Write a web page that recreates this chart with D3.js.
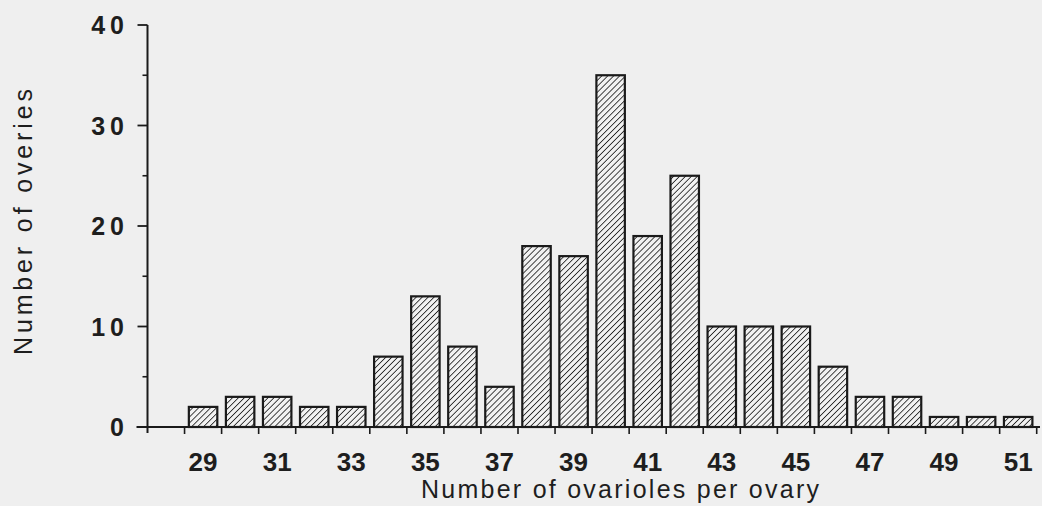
<!DOCTYPE html>
<html>
<head>
<meta charset="utf-8">
<script src="https://cdn.jsdelivr.net/npm/d3@7"></script>
<style>
  html, body { margin: 0; padding: 0; background: #efefef; }
  svg { display: block; }
  text { font-family: "Liberation Sans", Arial, Helvetica, sans-serif; fill: #1e1e1e; }
</style>
</head>
<body>
<div id="renderer"></div>
<script>
// ovarioles per ovary (bins) and number of ovaries in each
const bins = [29, 30, 31, 32, 33, 34, 35, 36, 37, 38, 39, 40, 41, 42, 43, 44, 45, 46, 47, 48, 49, 50, 51];
const counts = [2, 3, 3, 2, 2, 7, 13, 8, 4, 18, 17, 35, 19, 25, 10, 10, 10, 6, 3, 3, 1, 1, 1];
const xLabels = [29, 31, 33, 35, 37, 39, 41, 43, 45, 47, 49, 51];
const yLabels = [0, 10, 20, 30, 40];
const yMinor = [5, 15, 25, 35];

const width = 1042;
const height = 506;

const svg = d3.select("#renderer")
    .append("svg")
    .attr("width", width)
    .attr("height", height);

// hatch pattern for bars
const defs = svg.append("defs");
const pat = defs.append("pattern")
    .attr("id", "hatch")
    .attr("patternUnits", "userSpaceOnUse")
    .attr("width", 4.2)
    .attr("height", 4.2)
    .attr("patternTransform", "rotate(45)");
pat.append("rect").attr("width", 4.2).attr("height", 4.2).attr("fill", "#f2f2f2");
pat.append("line")
    .attr("x1", 0).attr("y1", 0).attr("x2", 0).attr("y2", 4.2)
    .attr("stroke", "#262626")
    .attr("stroke-width", 1.7);

// bin edges: 28 sits on the y axis, one empty bin before 29
const x = d3.scaleLinear()
    .domain([28, 52])
    .range([147.5, 1036.7]);

const y = d3.scaleLinear()
    .domain([0, 40])
    .range([427, 25]);

const inset = 4.3;

// bars
svg.selectAll("rect.bar")
    .data(bins)
    .join("rect")
    .attr("class", "bar")
    .attr("x", (d) => x(d) + inset)
    .attr("width", (d) => x(d + 1) - x(d) - 2 * inset)
    .attr("y", (d, i) => y(counts[i]))
    .attr("height", (d, i) => y(0) - y(counts[i]))
    .attr("fill", "url(#hatch)")
    .attr("stroke", "#1a1a1a")
    .attr("stroke-width", 2.2);

const axisColor = "#1a1a1a";

// y axis line
svg.append("line")
    .attr("x1", x(28)).attr("x2", x(28))
    .attr("y1", y(40)).attr("y2", y(0) + 6)
    .attr("stroke", axisColor)
    .attr("stroke-width", 2);

// y ticks (major + minor)
svg.selectAll("line.ymaj")
    .data(yLabels)
    .join("line")
    .attr("class", "ymaj")
    .attr("x1", x(28) - 10).attr("x2", x(28))
    .attr("y1", (d) => y(d)).attr("y2", (d) => y(d))
    .attr("stroke", axisColor)
    .attr("stroke-width", 1.8);

svg.selectAll("line.ymin")
    .data(yMinor)
    .join("line")
    .attr("class", "ymin")
    .attr("x1", x(28) - 5).attr("x2", x(28))
    .attr("y1", (d) => y(d)).attr("y2", (d) => y(d))
    .attr("stroke", axisColor)
    .attr("stroke-width", 1.6);

svg.selectAll("text.ylab")
    .data(yLabels)
    .join("text")
    .attr("class", "ylab")
    .attr("x", 129)
    .attr("y", (d) => y(d) + 9)
    .attr("text-anchor", "end")
    .attr("font-size", "25px")
    .attr("font-weight", "bold")
    .attr("letter-spacing", "5px")
    .text((d) => d);

// x axis line
svg.append("line")
    .attr("x1", x(28) - 11).attr("x2", 1040)
    .attr("y1", y(0)).attr("y2", y(0))
    .attr("stroke", axisColor)
    .attr("stroke-width", 2);

// x ticks at bin edges
svg.selectAll("line.xt")
    .data(d3.range(29, 53))
    .join("line")
    .attr("class", "xt")
    .attr("x1", (d) => x(d)).attr("x2", (d) => x(d))
    .attr("y1", y(0)).attr("y2", y(0) + 7)
    .attr("stroke", axisColor)
    .attr("stroke-width", 1.6);

svg.selectAll("text.xlab")
    .data(xLabels)
    .join("text")
    .attr("class", "xlab")
    .attr("x", (d) => x(d + 0.5))
    .attr("y", 471)
    .attr("text-anchor", "middle")
    .attr("font-size", "26px")
    .attr("font-weight", "bold")
    .text((d) => d);

// axis titles
svg.append("text")
    .attr("x", 421)
    .attr("y", 498)
    .attr("font-size", "25px")
    .attr("textLength", 398)
    .attr("lengthAdjust", "spacing")
    .text("Number of ovarioles per ovary");

svg.append("text")
    .attr("transform", "translate(32,355) rotate(-90)")
    .attr("x", 0)
    .attr("y", 0)
    .attr("font-size", "25px")
    .attr("textLength", 266)
    .attr("lengthAdjust", "spacing")
    .text("Number of overies");
</script>
</body>
</html>
